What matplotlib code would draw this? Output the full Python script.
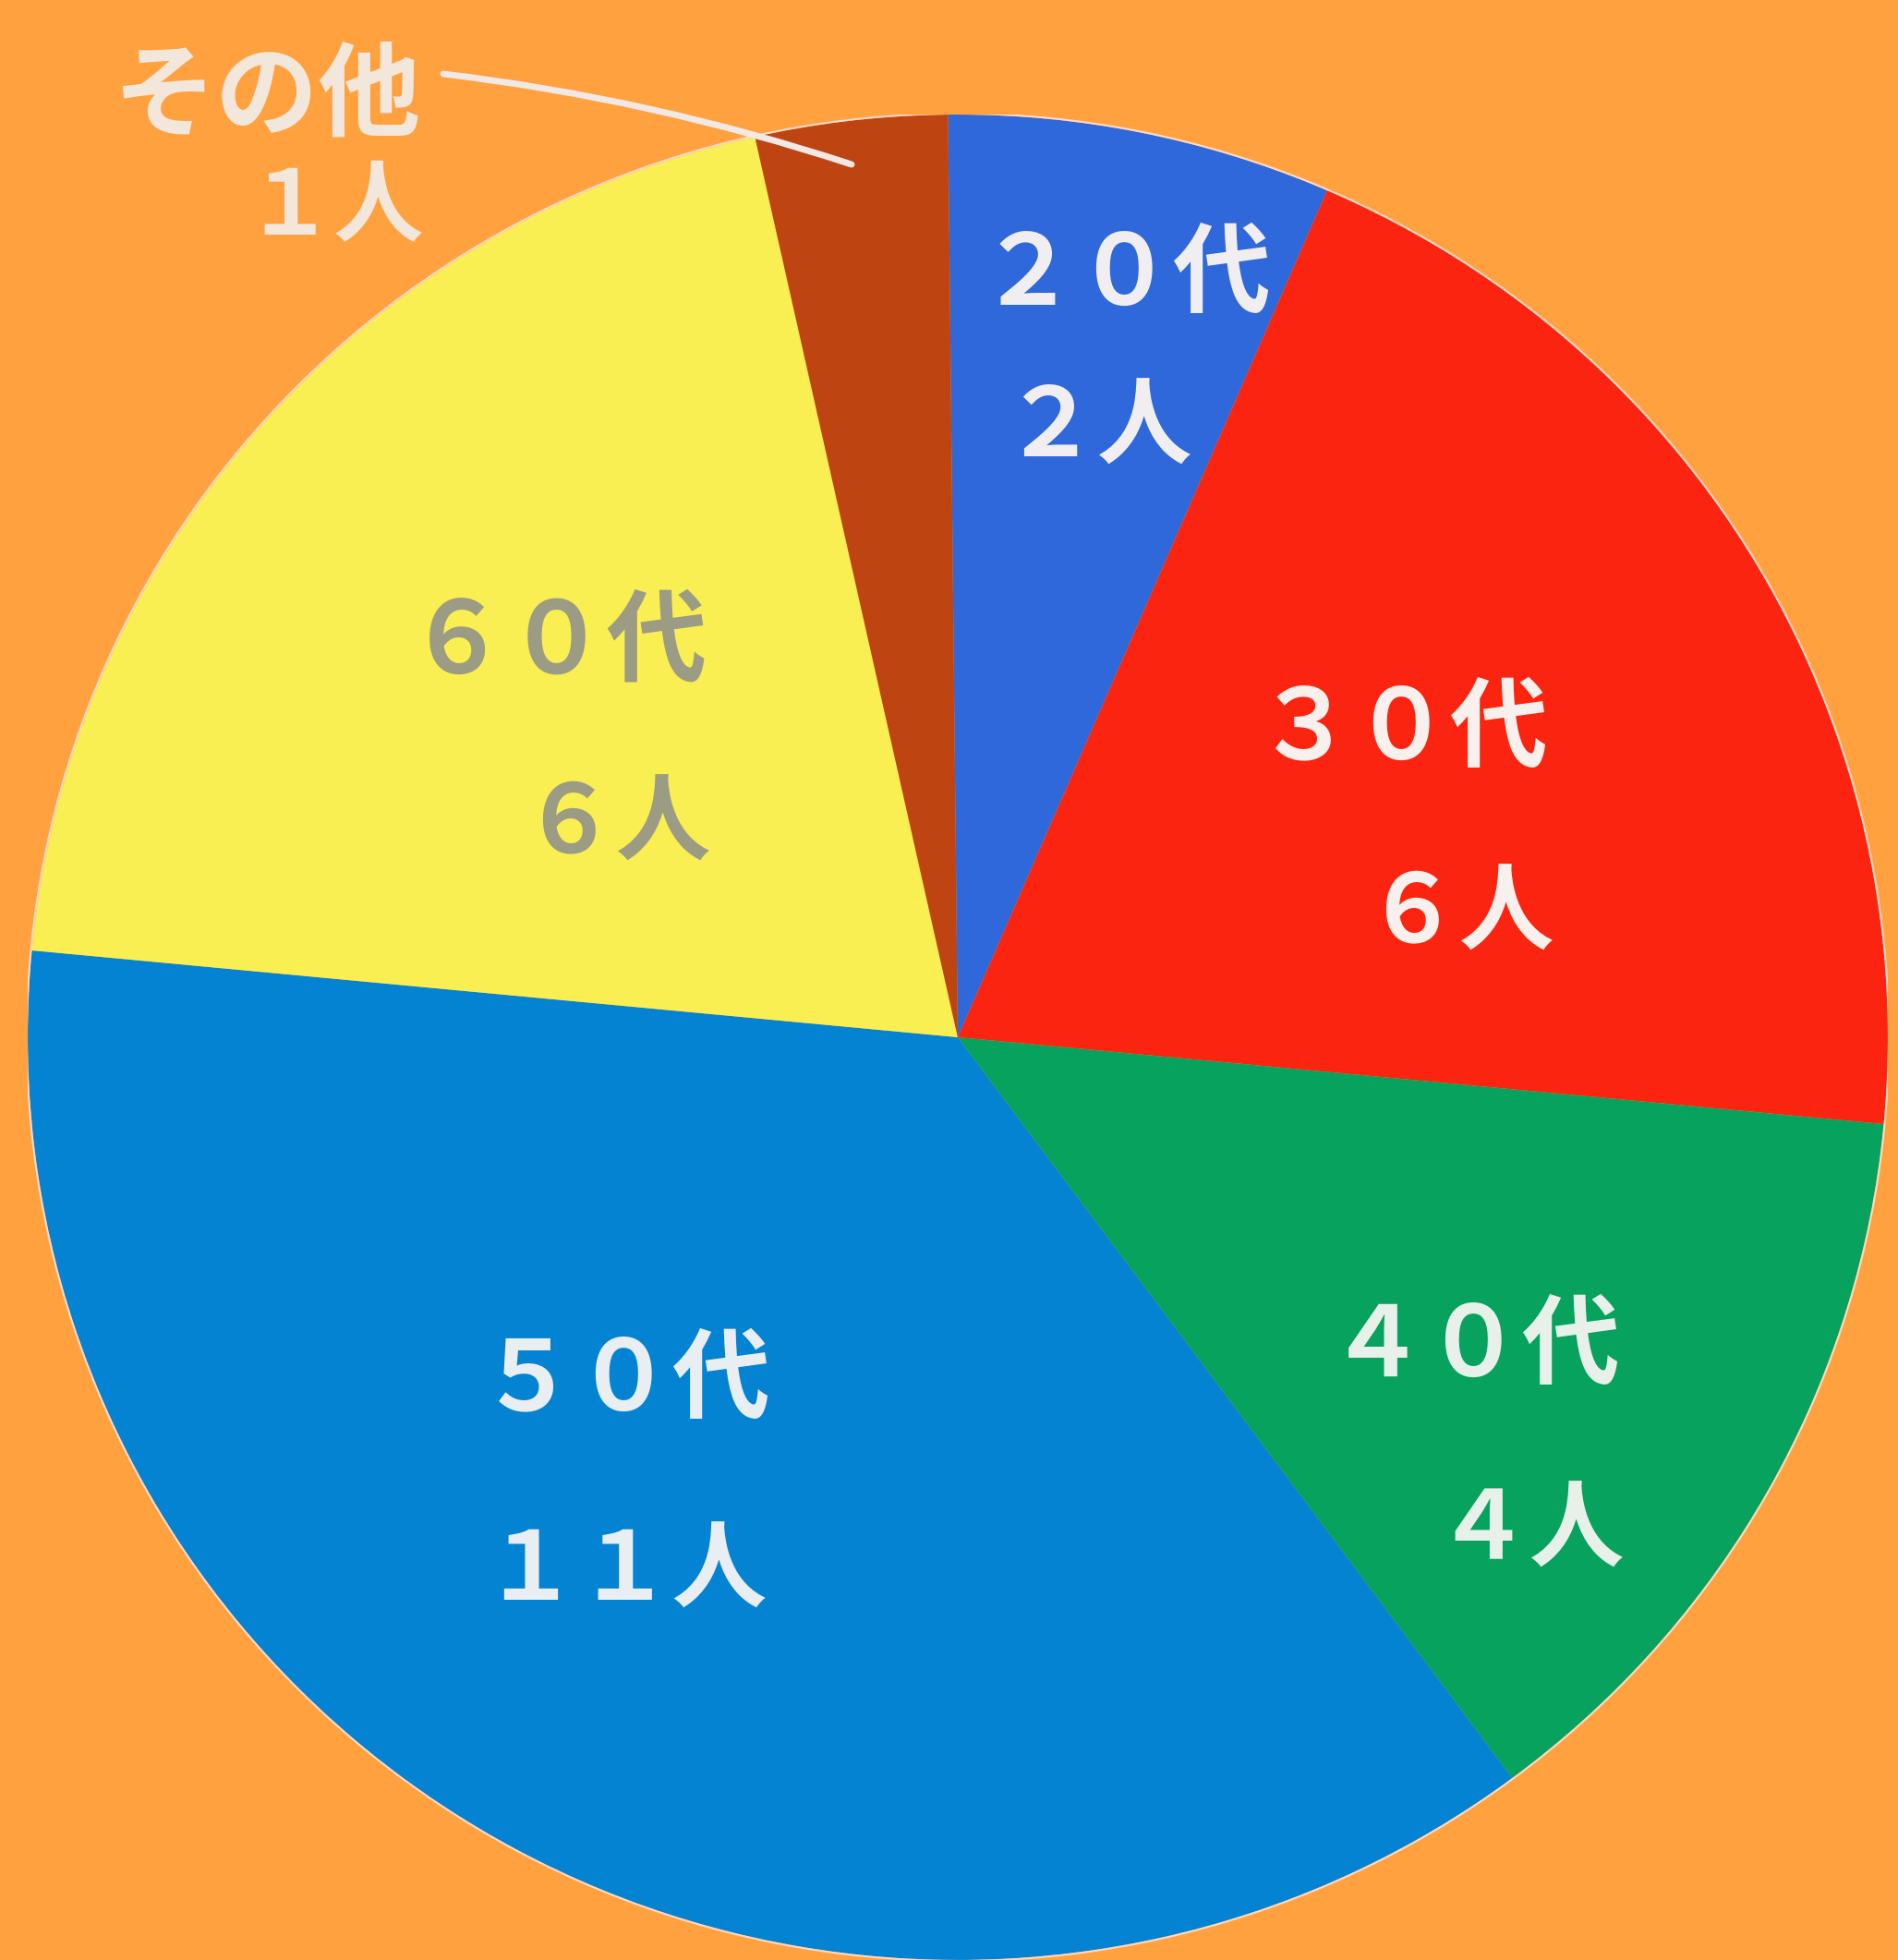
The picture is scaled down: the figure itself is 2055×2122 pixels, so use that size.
import matplotlib
matplotlib.use("Agg")
import matplotlib.pyplot as plt

plt.rcParams['font.family'] = ['Noto Sans CJK JP', 'DejaVu Sans']

categories = ['20代', '30代', '40代', '50代', '60代', 'その他']
counts = [2, 6, 4, 11, 6, 1]
top_labels = ['２０代', '３０代', '４０代', '５０代', '６０代', 'その他']
bottom_labels = ['２人', '６人', '４人', '１１人', '６人', '１人']
colors = ['#2E68DA', '#FB2410', '#06A25E', '#0383D2', '#F9EE52', '#BE4412']
text_colors = ['#F0EEF0', '#F8F0EC', '#E8F0EA', '#E8EEF2', '#9C9C84', '#F3E6DA']

W, H = 2055, 2122
BG = '#FFA13F'
fig = plt.figure(figsize=(W / 100, H / 100), dpi=100, facecolor=BG)

# Pie axes spans the painted disc, which is very slightly wider than tall
left, right, top, bottom = 30, 2044, 124, 2122
pie_ax = fig.add_axes([left / W, 1 - bottom / H, (right - left) / W, (bottom - top) / H])
pie_ax.pie(counts, colors=colors, startangle=90.6, counterclock=False, radius=1,
           center=(0, 0), frame=True,
           wedgeprops=dict(edgecolor='#F6D3BF', linewidth=0))
pie_ax.add_patch(plt.Circle((0, 0), 1.001, fc='none', ec='#FBD9C8', lw=1.5))
pie_ax.set_xlim(-1, 1)
pie_ax.set_ylim(-1, 1)
pie_ax.set_aspect('auto')
pie_ax.axis('off')

ax = fig.add_axes([0, 0, 1, 1])
ax.patch.set_alpha(0)
ax.set_xlim(0, W)
ax.set_ylim(0, H)
ax.axis('off')

top_pos = [(1218, 298), (1518, 790), (1596, 1458), (676, 1495), (603, 698), (289, 106)]
bottom_pos = [(1188, 464), (1580, 990), (1656, 1658), (676, 1702), (667, 893), (362, 226)]
fs_top = [76, 76, 76, 76, 78, 80]
fs_bottom = [74, 74, 74, 74, 74, 70]

for t, b, c, p, q, fa, fb in zip(top_labels, bottom_labels, text_colors, top_pos, bottom_pos, fs_top, fs_bottom):
    ax.text(p[0], H - p[1], t, color=c, fontsize=fa, fontweight='bold', ha='center', va='center')
    ax.text(q[0], H - q[1], b, color=c, fontsize=fb, fontweight='bold', ha='center', va='center')

ax.annotate('', xy=(922, H - 178), xytext=(480, H - 80),
            arrowprops=dict(arrowstyle='-', color='#F3E9E4', lw=5,
                            shrinkA=0, shrinkB=0,
                            connectionstyle='arc3,rad=-0.05'))

fig.savefig('out.png', dpi=100, facecolor=fig.get_facecolor())
